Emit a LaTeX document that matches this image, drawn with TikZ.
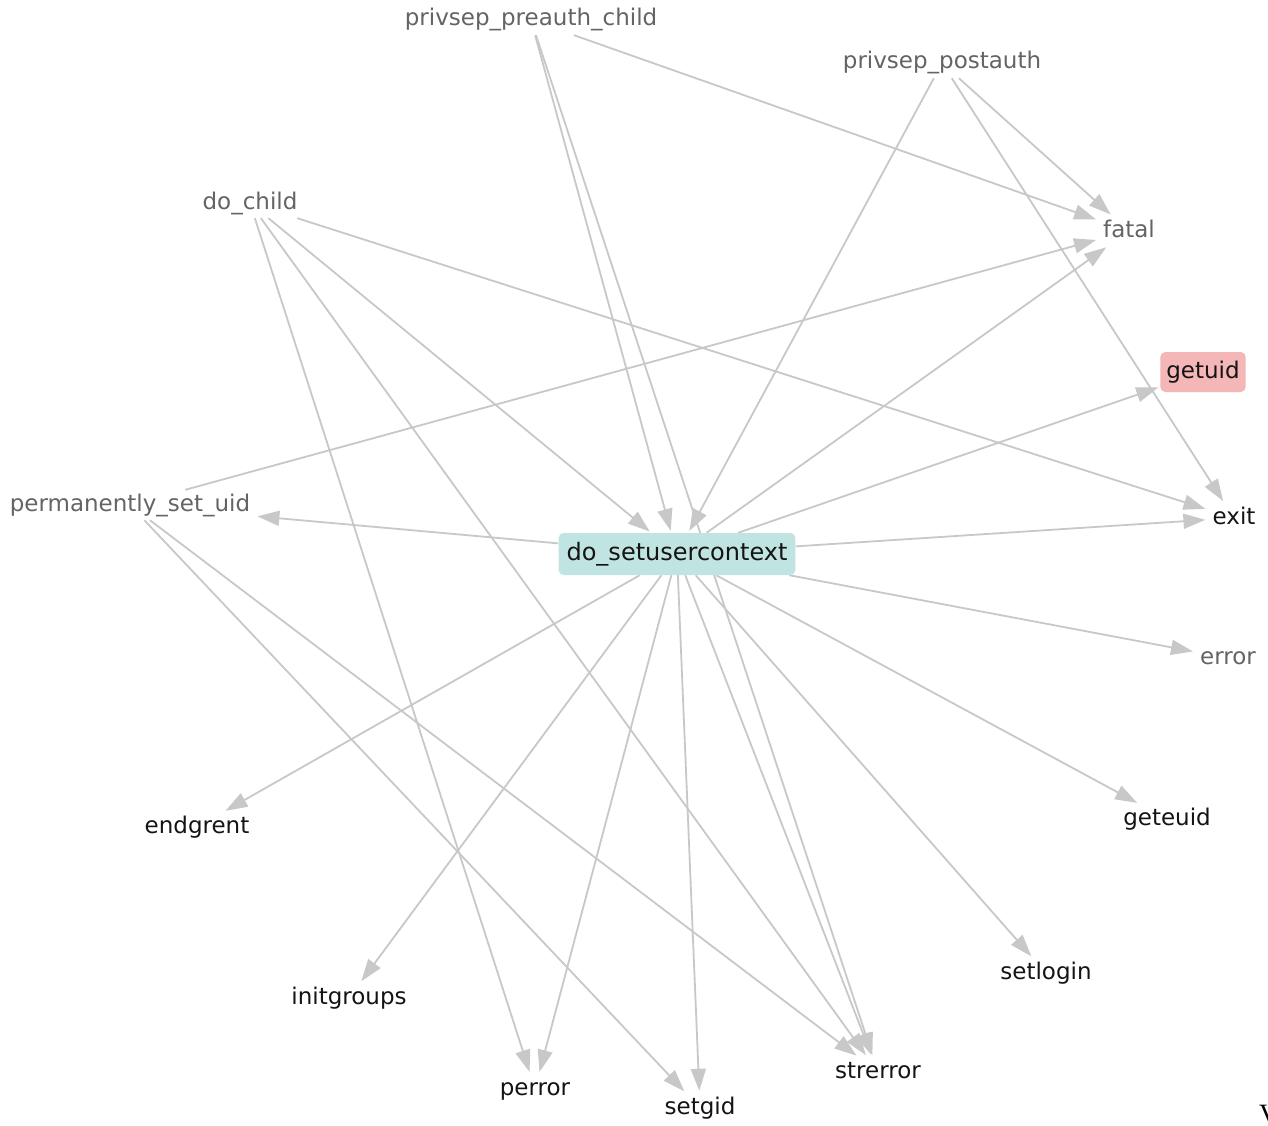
\documentclass[tikz,border=0pt]{standalone}
\usepackage{fontspec}
\setmainfont{DejaVu Sans}
\newfontfamily\serifV{Liberation Serif}
\usetikzlibrary{arrows.meta,backgrounds}
\definecolor{edgegray}{RGB}{200,200,200}
\definecolor{lblgray}{RGB}{100,100,100}
\definecolor{lblblack}{RGB}{20,20,20}
\definecolor{tealfill}{RGB}{192,228,226}
\definecolor{pinkfill}{RGB}{244,182,182}
\tikzset{
  lbl/.style={font=\fontsize{23}{27}\selectfont, text height=17pt, text depth=5pt, inner xsep=5pt, inner ysep=4pt, text=lblblack},
  lblg/.style={lbl, text=lblgray},
  hub/.style={lbl, font=\fontsize{24}{28}\selectfont, fill=tealfill, rounded corners=5pt, inner xsep=8pt, inner ysep=10pt},
  hot/.style={lbl, fill=pinkfill, rounded corners=5pt, inner xsep=6pt, inner ysep=9pt},
  link/.style={draw=edgegray, line width=1.8pt, -{Triangle[length=22pt,width=15pt]}, shorten >=2pt}
}
\begin{document}
\begin{tikzpicture}[x=1pt,y=-1pt]
\useasboundingbox (0,0) rectangle (1268,1126);
% nodes
\node[lblg] (pre) at (531,20) {privsep\_preauth\_child};
\node[lblg] (post) at (942,63) {privsep\_postauth};
\node[lblg] (dochild) at (250,203) {do\_child};
\node[lblg] (fatal) at (1129,231) {fatal};
\node[hot] (getuid) at (1203,372) {getuid};
\node[lblg] (perm) at (130,505) {permanently\_set\_uid};
\node[hub] (dsu) at (677,554) {do\_setusercontext};
\node[lbl] (exit) at (1234,518) {exit};
\node[lblg] (error) at (1228,658) {error};
\node[lbl] (endgrent) at (197,827) {endgrent};
\node[lbl] (geteuid) at (1167,819) {geteuid};
\node[lbl] (setlogin) at (1046,973) {setlogin};
\node[lbl] (initgroups) at (349,998) {initgroups};
\node[lbl] (perror) at (535,1089) {perror};
\node[lbl] (setgid) at (700,1108) {setgid};
\node[lbl] (strerror) at (878,1072) {strerror};
\node[anchor=west, inner sep=0pt, font=\serifV\fontsize{28}{30}\selectfont, text=black] (vmark) at (1259,1115) {V};
% edges
\begin{scope}[on background layer]
\fill[white] (0,0) rectangle (1268,1126);
\draw[link] (pre) -- (dsu);
\draw[link] (pre) -- (strerror);
\draw[link] (pre) -- (fatal);
\draw[link] (post) -- (dsu);
\draw[link] (post) -- (fatal);
\draw[link] (post) -- (exit);
\draw[link] (dochild) -- (dsu);
\draw[link] (dochild) -- (exit);
\draw[link] (dochild) -- (perror);
\draw[link] (dochild) -- (strerror);
\draw[link] (perm) -- (fatal);
\draw[link] (perm) -- (setgid);
\draw[link] (perm) -- (strerror);
\draw[link] (dsu) -- (perm);
\draw[link] (dsu) -- (fatal);
\draw[link] (dsu) -- (getuid);
\draw[link] (dsu) -- (exit);
\draw[link] (dsu) -- (error);
\draw[link] (dsu) -- (geteuid);
\draw[link] (dsu) -- (setlogin);
\draw[link] (dsu) -- (strerror);
\draw[link] (dsu) -- (setgid);
\draw[link] (dsu) -- (perror);
\draw[link] (dsu) -- (initgroups);
\draw[link] (dsu) -- (endgrent);
\end{scope}
\end{tikzpicture}
\end{document}
